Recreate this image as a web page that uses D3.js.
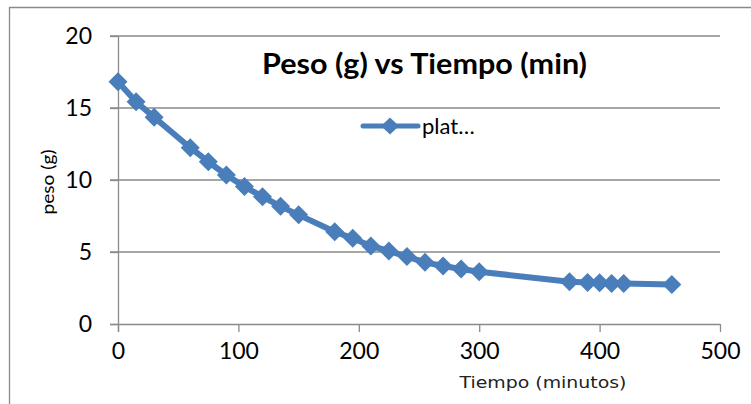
<!DOCTYPE html>
<html><head><meta charset="utf-8">
<script src="https://cdn.jsdelivr.net/npm/d3@7"></script>
<style>body{margin:0;background:#fff}svg{display:block}</style>
</head><body>
<svg id="c" width="751" height="404"></svg>
<script>
const tiempo = [0,15,30,60,75,90,105,120,135,150,180,195,210,225,240,255,270,285,300,375,390,400,410,420,460];
const peso   = [16.82,15.44,14.35,12.24,11.27,10.35,9.54,8.84,8.17,7.58,6.41,5.95,5.42,5.07,4.68,4.28,4.03,3.82,3.63,2.94,2.89,2.87,2.82,2.82,2.75];
const xTicks = [0,100,200,300,400,500];
const yTicks = [0,5,10,15,20];
const seriesName = "plat…";
const title = "Peso (g) vs Tiempo (min)";
const xTitle = "Tiempo  (minutos)";
const yTitle = "peso (g)";

const svg = d3.select("#c");
const col = "#4a7ebb", grid = "#8a8a8a";
const x = d3.scaleLinear().domain([0,500]).range([118,720]);
const y = d3.scaleLinear().domain([0,20]).range([324,36]);

// outer chart border
svg.append("path").attr("d","M9.5,404 V7.5 H751").attr("fill","none").attr("stroke",grid).attr("stroke-width",1.3);

// gridlines
svg.append("g").selectAll("line").data(yTicks.filter(d=>d>0)).join("line")
  .attr("x1",110).attr("x2",720).attr("y1",d=>y(d)).attr("y2",d=>y(d))
  .attr("stroke",grid).attr("stroke-width",1.3);

// axes
const yAxis = svg.append("g").attr("transform",`translate(${x(0)},0)`)
  .call(d3.axisLeft(y).tickValues(yTicks).tickSize(8).tickPadding(18));
const xAxis = svg.append("g").attr("transform",`translate(0,${y(0)})`)
  .call(d3.axisBottom(x).tickValues(xTicks).tickSize(8).tickPadding(11));
[yAxis,xAxis].forEach(a=>{
  a.select(".domain").attr("stroke",grid).attr("stroke-width",1.3);
  a.selectAll(".tick line").attr("stroke",grid).attr("stroke-width",1.3);
  a.selectAll("text").attr("font-family","Lato, sans-serif").attr("font-size",23).attr("fill","#000");
});
xAxis.select(".domain").attr("d",`M110,0.5H720`);
yAxis.select(".domain").attr("d",`M0.5,${y(20)}V${y(0)+8}`);

// line
const line = d3.line().x((d,i)=>x(tiempo[i])).y(d=>y(d));
svg.append("path").datum(peso).attr("d",line).attr("fill","none")
  .attr("stroke",col).attr("stroke-width",6).attr("stroke-linejoin","round");
const diamond = "M0,-9.5L9.5,0L0,9.5L-9.5,0Z";
svg.append("g").selectAll("path").data(peso).join("path")
  .attr("d",diamond).attr("transform",(d,i)=>`translate(${x(tiempo[i])},${y(d)})`)
  .attr("fill",col);

// title
svg.append("text").attr("x",424.5).attr("y",74).attr("text-anchor","middle")
  .attr("font-family","Lato, sans-serif").attr("font-weight","bold").attr("font-size",29)
  .attr("textLength",325).attr("lengthAdjust","spacingAndGlyphs")
  .text(title);

// legend
svg.append("line").attr("x1",363).attr("x2",418).attr("y1",126).attr("y2",126)
  .attr("stroke",col).attr("stroke-width",5).attr("stroke-linecap","round");
svg.append("path").attr("d","M0,-8.5L9,0L0,8.5L-9,0Z").attr("transform","translate(390,126)").attr("fill",col);
svg.append("text").attr("x",422).attr("y",134).attr("font-family","Lato, sans-serif")
  .attr("font-size",22).text(seriesName);

// axis titles
svg.append("text").attr("x",543).attr("y",388).attr("text-anchor","middle")
  .attr("font-family","DejaVu Sans, sans-serif").attr("font-size",16).attr("fill","#222")
  .attr("textLength",167).attr("lengthAdjust","spacingAndGlyphs").text(xTitle);
svg.append("text").attr("transform","translate(54,182) rotate(-90)").attr("text-anchor","middle")
  .attr("font-family","Lato, sans-serif").attr("font-size",18)
  .attr("textLength",65).attr("lengthAdjust","spacingAndGlyphs").text(yTitle);
</script>
</body></html>
